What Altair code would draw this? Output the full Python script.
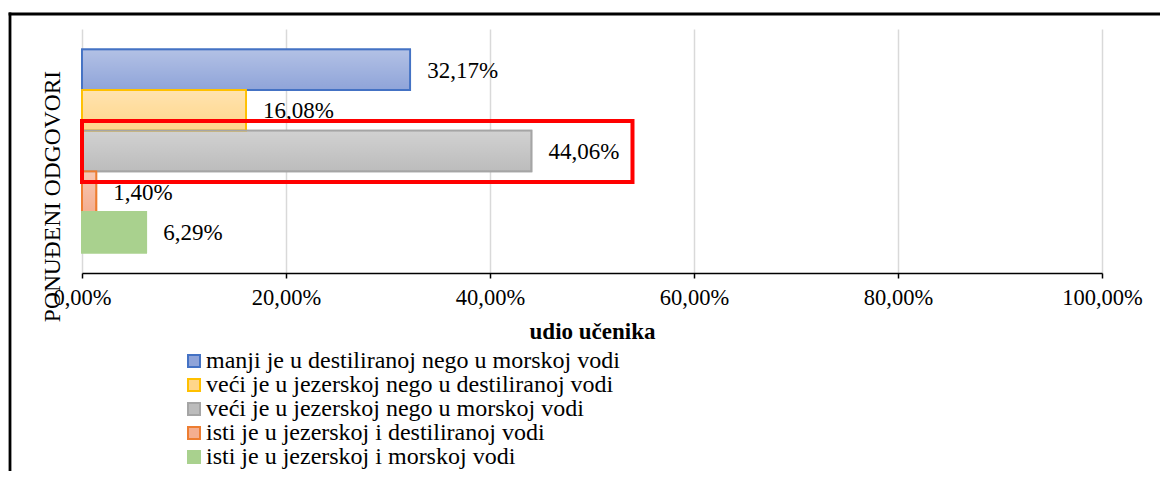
import altair as alt
import pandas as pd

series = [
    "manji je u destiliranoj nego u morskoj vodi",
    "veći je u jezerskoj nego u destiliranoj vodi",
    "veći je u jezerskoj nego u morskoj vodi",
    "isti je u jezerskoj i destiliranoj vodi",
    "isti je u jezerskoj i morskoj vodi",
]
values = [0.3217, 0.1608, 0.4406, 0.0140, 0.0629]
labels = ["32,17%", "16,08%", "44,06%", "1,40%", "6,29%"]
fills = ["#8fa4d9", "#ffd68a", "#bcbcbc", "#f4ae90", "#a9d18e"]
strokes = ["#4472c4", "#ffc000", "#a5a5a5", "#ed7d31", "#a9d18e"]
x_ticks = [0, 0.2, 0.4, 0.6, 0.8, 1.0]

df = pd.DataFrame({"odgovor": series, "udio": values, "oznaka": labels})

FONT = "Times New Roman, Liberation Serif, DejaVu Serif, serif"

x_enc = alt.X(
    "udio:Q",
    scale=alt.Scale(domain=[0, 1], nice=False, zero=True),
    axis=alt.Axis(
        values=x_ticks,
        format=".2%",
        labelExpr="replace(datum.label, '.', ',')",
        labelFlush=False,
        labelOverlap=False,
        title="udio učenika",
        titleFontWeight="bold",
        titleFontSize=23,
        titleY=65,
        titleBaseline="alphabetic",
        labelFontSize=22.5,
        labelPadding=8,
        tickSize=5,
        tickColor="black",
        tickWidth=1.5,
        domainColor="black",
        domainWidth=1.5,
        gridColor="#d9d9d9",
        gridWidth=1.5,
    ),
)
y_enc = alt.Y(
    "odgovor:N",
    sort=series,
    scale=alt.Scale(paddingInner=0, paddingOuter=0.5),
    axis=alt.Axis(
        labels=False,
        ticks=False,
        domain=False,
        grid=False,
        title="PONUĐENI ODGOVORI",
        titleFontWeight="normal",
        titleFontSize=23.5,
        titleAngle=270,
        titleX=-29.5,
        titleY=167,
        titleBaseline="middle",
        titleAlign="center",
    ),
)

fill_scale = alt.Scale(domain=series, range=fills)
stroke_scale = alt.Scale(domain=series, range=strokes)

legend = alt.Legend(
    title=None,
    orient="none",
    legendX=100,
    legendY=320,
    symbolType="square",
    symbolSize=144,
    symbolStrokeWidth=2,
    labelFontSize=24,
    labelLimit=800,
    rowPadding=0,
    labelOffset=0,
    padding=0,
)

base = alt.Chart(df)

bars = base.mark_bar(strokeWidth=1.8).encode(
    x=x_enc,
    y=y_enc,
    fill=alt.Fill("odgovor:N", scale=fill_scale, legend=legend, sort=series),
    stroke=alt.Stroke("odgovor:N", scale=stroke_scale, legend=legend, sort=series),
)

gradient = {
    "gradient": "linear",
    "x1": 0, "y1": 0, "x2": 0, "y2": 1,
    "stops": [
        {"offset": 0, "color": "rgba(255,255,255,0.32)"},
        {"offset": 1, "color": "rgba(255,255,255,0)"},
    ],
}
shine = base.transform_filter(
    alt.datum.odgovor != series[4]
).mark_bar(fill=gradient, strokeWidth=0).encode(
    x="udio:Q",
    y=alt.Y("odgovor:N", sort=series),
)

outline = base.mark_bar(fillOpacity=0, strokeWidth=1.8).encode(
    x="udio:Q",
    y=alt.Y("odgovor:N", sort=series),
    stroke=alt.Stroke("odgovor:N", scale=stroke_scale, legend=legend, sort=series),
)

text = base.mark_text(
    align="left", baseline="middle", dx=17, dy=1, fontSize=23, font=FONT, color="black"
).encode(
    x="udio:Q",
    y=alt.Y("odgovor:N", sort=series),
    text="oznaka:N",
)

box = alt.Chart(alt.Data(values=[{}])).mark_rect(
    fill="white", fillOpacity=0, stroke="#ff0000", strokeWidth=4
).encode(
    x=alt.datum(0.0),
    x2=alt.datum(0.5397),
    y=alt.value(92),
    y2=alt.value(153),
)

frame_left = alt.Chart(alt.Data(values=[{}])).mark_rule(
    color="black", strokeWidth=2.8
).encode(x=alt.value(-72), y=alt.value(-16.4), y2=alt.value(460))
frame_top = alt.Chart(alt.Data(values=[{}])).mark_rule(
    color="black", strokeWidth=2.8
).encode(x=alt.value(-73.4), x2=alt.value(1100), y=alt.value(-15))

chart = alt.layer(bars, shine, outline, text, box, frame_left, frame_top).properties(
    width=1020,
    height=244,
    autosize=alt.AutoSizeParams(type="none"),
    padding={"left": 74, "top": 21, "right": 58, "bottom": 198},
).configure(
    font=FONT,
).configure_axis(
    labelFont=FONT, titleFont=FONT, labelColor="black", titleColor="black"
).configure_legend(
    labelFont=FONT, labelColor="black"
).configure_view(
    stroke=None
)

chart.save("out.html", embed_options={"renderer": "svg", "actions": False})
